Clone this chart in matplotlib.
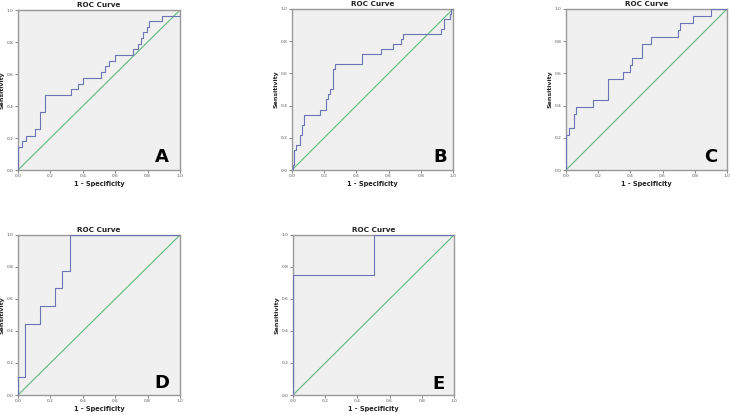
import matplotlib
matplotlib.use("Agg")
import matplotlib.pyplot as plt

# ROC step curves: (1 - specificity, sensitivity) at each step corner (steps-post)
fpr_A = [0.0, 0.0, 0.025, 0.05, 0.107, 0.134, 0.165, 0.33, 0.371, 0.40, 0.51, 0.536, 0.563, 0.598,
         0.71, 0.742, 0.76, 0.773, 0.794, 0.81, 0.89, 1.0, 1.0]
tpr_A = [0.0, 0.146, 0.18, 0.215, 0.254, 0.36, 0.466, 0.504, 0.54, 0.575, 0.61, 0.647, 0.683, 0.718,
         0.755, 0.79, 0.825, 0.86, 0.895, 0.93, 0.965, 0.965, 1.0]

fpr_B = [0.0, 0.0, 0.005, 0.01, 0.027, 0.05, 0.062, 0.076, 0.175, 0.212, 0.223, 0.233, 0.254, 0.268,
         0.433, 0.55, 0.63, 0.68, 0.69, 0.928, 0.942, 0.945, 0.98, 0.99, 1.0]
tpr_B = [0.0, 0.0, 0.031, 0.125, 0.156, 0.219, 0.281, 0.344, 0.375, 0.438, 0.469, 0.50, 0.625, 0.656,
         0.719, 0.75, 0.781, 0.813, 0.844, 0.875, 0.906, 0.938, 0.969, 1.0, 1.0]

fpr_C = [0.0, 0.0, 0.02, 0.05, 0.06, 0.17, 0.262, 0.355, 0.397, 0.41, 0.469, 0.527, 0.696, 0.71,
         0.79, 0.903, 1.0]
tpr_C = [0.0, 0.217, 0.261, 0.348, 0.391, 0.435, 0.565, 0.609, 0.652, 0.696, 0.783, 0.826, 0.870, 0.913,
         0.957, 1.0, 1.0]

fpr_D = [0.0, 0.0, 0.045, 0.136, 0.227, 0.273, 0.318, 1.0]
tpr_D = [0.0, 0.111, 0.444, 0.556, 0.667, 0.778, 1.0, 1.0]

fpr_E = [0.0, 0.0, 0.5, 1.0]
tpr_E = [0.0, 0.75, 1.0, 1.0]

panels = [
    ("A", fpr_A, tpr_A, (18, 10, 180, 170), (162, 157)),
    ("B", fpr_B, tpr_B, (292, 9, 453, 170), (440, 157)),
    ("C", fpr_C, tpr_C, (566, 9, 727, 170), (711, 157)),
    ("D", fpr_D, tpr_D, (18, 235, 180, 395), (162, 383)),
    ("E", fpr_E, tpr_E, (293, 235, 454, 395), (439, 384)),
]

ticks = [0.0, 0.2, 0.4, 0.6, 0.8, 1.0]
tick_labels = ["0.0", "0.2", "0.4", "0.6", "0.8", "1.0"]

W, H = 730, 415
fig = plt.figure(figsize=(W / 100, H / 100), dpi=100)
fig.patch.set_facecolor("white")

for letter, fx, ty, (x0, y0, x1, y1), (lx, ly) in panels:
    ax = fig.add_axes([x0 / W, 1 - y1 / H, (x1 - x0) / W, (y1 - y0) / H])
    ax.set_facecolor("#f0f0f0")
    ax.plot([0, 1], [0, 1], color="#5dbb7e", lw=0.8, zorder=2)
    ax.plot(fx, ty, drawstyle="steps-post", color="#6c74b6", lw=0.8, zorder=3)
    ax.set_xlim(0, 1)
    ax.set_ylim(0, 1)
    ax.set_xticks(ticks)
    ax.set_yticks(ticks)
    ax.set_xticklabels(tick_labels)
    ax.set_yticklabels(tick_labels)
    ax.tick_params(labelsize=3.2, length=2, width=0.5, pad=1, colors="#555555")
    for s in ax.spines.values():
        s.set_color("#999999")
        s.set_linewidth(1.0)
    ax.set_title("ROC Curve", fontsize=5.2, fontweight="bold", pad=2, color="#222222")
    ax.set_xlabel("1 - Specificity", fontsize=4.8, fontweight="bold", labelpad=2, color="#222222")
    ax.set_ylabel("Sensitivity", fontsize=4.5, fontweight="bold", color="#222222")
    ax.yaxis.set_label_coords(-0.085, 0.5)
    fig.text(lx / W, 1 - ly / H, letter, fontsize=13, fontweight="bold",
             ha="center", va="center", color="black", family="DejaVu Sans")

fig.savefig("out.png", dpi=100)
